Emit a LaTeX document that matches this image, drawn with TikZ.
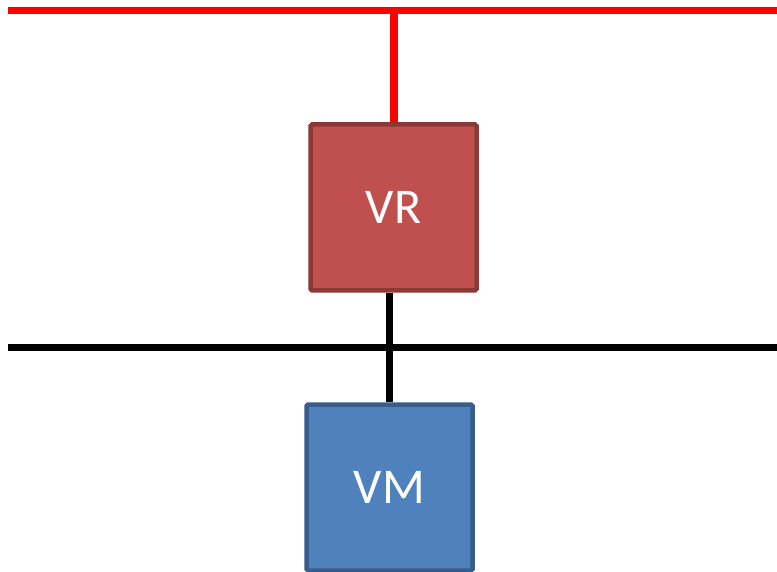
\documentclass[tikz,border=0pt]{standalone}
\usepackage{fontspec}
\setmainfont{Carlito}
\definecolor{vrfill}{HTML}{C0504D}
\definecolor{vrline}{HTML}{8C3836}
\definecolor{vmfill}{HTML}{4F81BD}
\definecolor{vmline}{HTML}{385D8A}
\begin{document}
\begin{tikzpicture}[x=1pt,y=-1pt,
  box/.style={draw, line width=4.5pt, rounded corners=1.5pt, minimum width=166pt, minimum height=166pt, inner sep=0pt, text=white, font=\fontsize{50}{60}\selectfont},
  wire/.style={line width=7.5pt}]
\useasboundingbox (0,0) rectangle (777,572);
\node[box, fill=vrfill, draw=vrline] (vr) at (393.5,207.5) {VR};
\node[box, fill=vmfill, draw=vmline] (vm) at (389.5,487.5) {VM};
\coordinate (rl) at (8,10.5);
\coordinate (rr) at (777,10.5);
\coordinate (rt) at (393.5,10.5);
\coordinate (bl) at (8,347.5);
\coordinate (br) at (777,347.5);
\draw[wire, red] (rl) -- (rr);
\draw[wire, red, line width=8pt] (rt) -- (vr.north);
\draw[wire, black] (bl) -- (br);
\draw[wire, black] (vr.south -| vm.north) -- (vm.north);
\end{tikzpicture}
\end{document}
